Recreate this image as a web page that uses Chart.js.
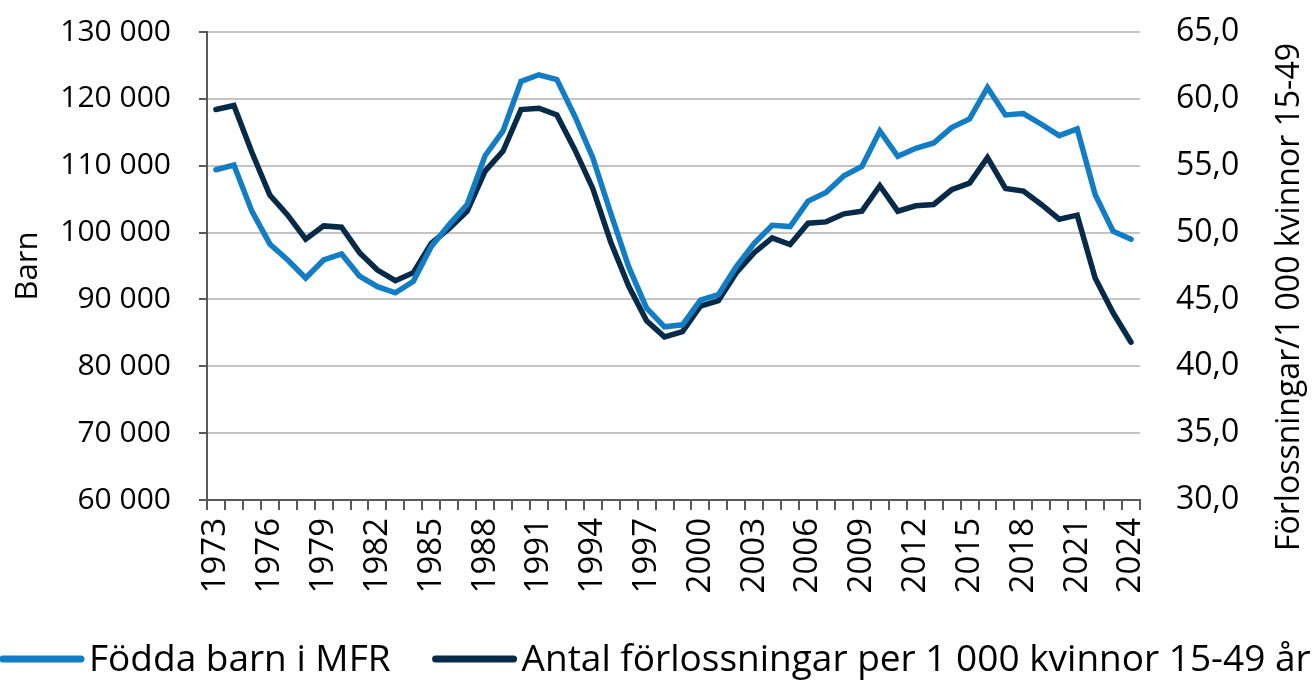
<!DOCTYPE html>
<html lang="sv">
<head>
<meta charset="utf-8">
<title>Födda barn och förlossningar</title>
<script src="https://cdn.jsdelivr.net/npm/chart.js@4.4.1/dist/chart.umd.min.js"></script>
<style>
  html, body { margin: 0; padding: 0; background: #fff; }
  #wrap { width: 1312px; height: 684px; position: relative; }
</style>
</head>
<body>
<div id="wrap"><canvas id="graphCanvas"></canvas></div>
<script>
// år 1973-2024
var years = ['1973','1974','1975','1976','1977','1978','1979','1980','1981','1982',
  '1983','1984','1985','1986','1987','1988','1989','1990','1991','1992',
  '1993','1994','1995','1996','1997','1998','1999','2000','2001','2002',
  '2003','2004','2005','2006','2007','2008','2009','2010','2011','2012',
  '2013','2014','2015','2016','2017','2018','2019','2020','2021','2022',
  '2023','2024'];

// Födda barn i MFR (vänster axel)
var foddaBarn = [109400, 110100, 103200, 98300, 95900, 93200, 95900, 96800, 93500, 91900,
  91000, 92700, 97900, 101200, 104200, 111500, 115200, 122600, 123600, 122900,
  117400, 111200, 102900, 94900, 88700, 85900, 86200, 89900, 90700, 94900,
  98400, 101100, 100900, 104700, 106000, 108500, 109900, 115200, 111400, 112600,
  113400, 115700, 117000, 121700, 117600, 117800, 116200, 114500, 115500, 105700,
  100200, 99000];

// Antal förlossningar per 1 000 kvinnor 15-49 år (höger axel)
var forlossningar = [59.2, 59.5, 56.0, 52.8, 51.3, 49.5, 50.5, 50.4, 48.5, 47.2,
  46.4, 47.0, 49.2, 50.3, 51.6, 54.6, 56.1, 59.2, 59.3, 58.8,
  56.2, 53.3, 49.3, 46.0, 43.4, 42.2, 42.6, 44.5, 44.9, 47.0,
  48.5, 49.6, 49.1, 50.7, 50.8, 51.4, 51.6, 53.5, 51.6, 52.0,
  52.1, 53.2, 53.7, 55.6, 53.3, 53.1, 52.1, 51.0, 51.3, 46.6,
  44.0, 41.8];

var leftTicks = { min: 60000, max: 130000, step: 10000 };
var rightTicks = { min: 30, max: 65, step: 5 };
var rightTitle = 'Förlossningar/1 000 kvinnor 15-49';

var FONT = "'Open Sans', 'Noto Sans', sans-serif";
var BLUE = '#127cc4';
var DARK = '#062a47';

function spaceThousands(v) {
    return String(v).replace(/\B(?=(\d{3})+(?!\d))/g, ' ');
}

// höger axeltitel läses nerifrån och upp, legend ritas själv
var extras = {
    id: 'extras',
    afterDraw: function (chart) {
        var ctx = chart.ctx;
        ctx.save();
        ctx.fillStyle = '#000';
        ctx.font = '32px ' + FONT;
        ctx.textAlign = 'center';
        ctx.textBaseline = 'middle';
        ctx.translate(1290, 297);
        ctx.rotate(-Math.PI / 2);
        ctx.fillText(rightTitle, 0, 0);
        ctx.restore();

        ctx.save();
        ctx.font = '37px ' + FONT;
        ctx.textBaseline = 'middle';
        ctx.textAlign = 'left';
        var x = 3, y = 660;
        chart.data.datasets.forEach(function (ds) {
            ctx.strokeStyle = ds.borderColor;
            ctx.lineWidth = 7;
            ctx.lineCap = 'round';
            ctx.beginPath();
            ctx.moveTo(x, y - 1);
            ctx.lineTo(x + 78, y - 1);
            ctx.stroke();
            ctx.fillStyle = '#000';
            ctx.fillText(ds.label, x + 86, y);
            x = x + 86 + ctx.measureText(ds.label).width + 45;
        });
        ctx.restore();
    }
};

// ingen extra topp-/bottenmarginal från tickpadding
function noVertPadding(scale) {
    scale.paddingTop = 0;
    scale.paddingBottom = 0;
}

var chartdata = {
    labels: years,
    datasets: [
        {
            label: 'Födda barn i MFR',
            data: foddaBarn,
            yAxisID: 'y',
            borderColor: BLUE,
            backgroundColor: BLUE,
            borderWidth: 5.5,
            borderCapStyle: 'round',
            borderJoinStyle: 'miter',
            pointRadius: 0,
            tension: 0
        },
        {
            label: 'Antal förlossningar per 1 000 kvinnor 15-49 år',
            data: forlossningar,
            yAxisID: 'y1',
            borderColor: DARK,
            backgroundColor: DARK,
            borderWidth: 5.5,
            borderCapStyle: 'round',
            borderJoinStyle: 'miter',
            pointRadius: 0,
            tension: 0
        }
    ]
};

var graphTarget = document.getElementById('graphCanvas');

var lineGraph = new Chart(graphTarget, {
    type: 'line',
    data: chartdata,
    plugins: [extras],
    options: {
        responsive: true,
        maintainAspectRatio: false,
        animation: false,
        layout: { padding: { top: 32, left: 0, right: 0, bottom: 54 } },
        plugins: {
            tooltip: { enabled: false },
            legend: { display: false }
        },
        scales: {
            x: {
                type: 'category',
                offset: true,
                grid: {
                    display: true,
                    offset: true,
                    drawOnChartArea: false,
                    drawTicks: true,
                    tickLength: 10,
                    color: '#595959',
                    lineWidth: 2
                },
                border: { display: true, color: '#595959', width: 2 },
                ticks: {
                    autoSkip: false,
                    maxRotation: 90,
                    minRotation: 90,
                    padding: 8,
                    color: '#000',
                    font: { family: FONT, size: 33 },
                    callback: function (val, idx) {
                        return idx % 3 === 0 ? years[idx] : '';
                    }
                },
                afterFit: function (scale) { scale.height = 130; }
            },
            y: {
                position: 'left',
                min: leftTicks.min,
                max: leftTicks.max,
                grid: {
                    color: '#c4c4c4',
                    lineWidth: 2,
                    drawTicks: true,
                    tickLength: 8,
                    tickColor: '#595959'
                },
                border: { display: true, color: '#595959', width: 2 },
                ticks: {
                    stepSize: leftTicks.step,
                    padding: 28,
                    color: '#000',
                    font: { family: FONT, size: 30 },
                    callback: function (v) { return spaceThousands(v); }
                },
                title: {
                    display: true,
                    text: 'Barn',
                    color: '#000',
                    font: { family: FONT, size: 31 },
                    padding: { top: 10, bottom: 0 }
                },
                afterFit: function (scale) { scale.width = 207; noVertPadding(scale); }
            },
            y1: {
                position: 'right',
                min: rightTicks.min,
                max: rightTicks.max,
                grid: { display: false, drawOnChartArea: false },
                border: { display: false },
                ticks: {
                    stepSize: rightTicks.step,
                    padding: 28,
                    color: '#000',
                    font: { family: FONT, size: 32 },
                    callback: function (v) { return v.toFixed(1).replace('.', ','); }
                },
                afterFit: function (scale) { scale.width = 172; noVertPadding(scale); }
            }
        }
    }
});
</script>
</body>
</html>
